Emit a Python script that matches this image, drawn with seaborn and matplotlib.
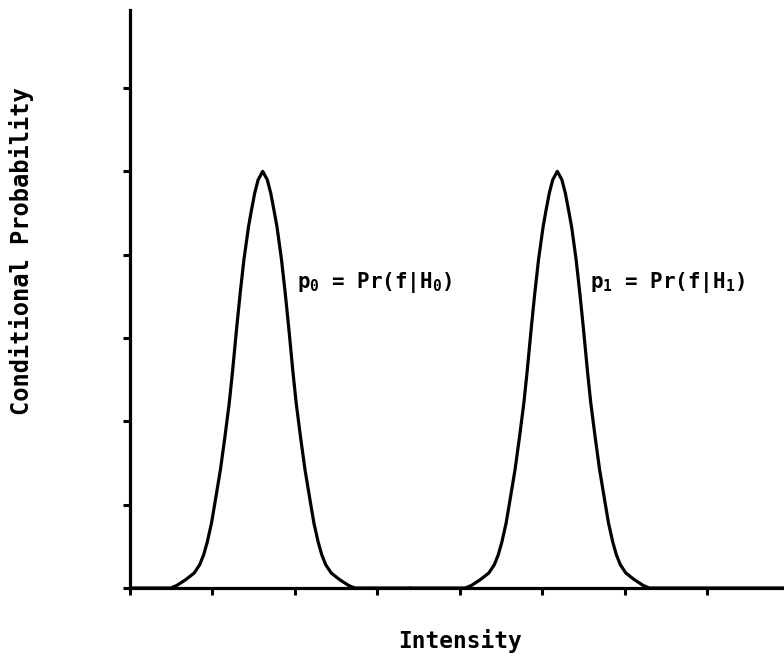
import matplotlib
matplotlib.use("Agg")
import matplotlib.pyplot as plt
import seaborn as sns
import pandas as pd

# Curve points (x in tick units, y in tick units)
p0_x = [0.000, 0.494, 0.567, 0.676, 0.779, 0.846, 0.894, 0.937, 0.989, 1.030,
        1.097, 1.151, 1.204, 1.242, 1.295, 1.337, 1.382, 1.437, 1.467, 1.513,
        1.555, 1.610,
        1.665, 1.707, 1.753, 1.784, 1.838, 1.883, 1.925, 1.978, 2.016, 2.069,
        2.123, 2.190, 2.231, 2.283, 2.326, 2.374, 2.441, 2.544, 2.653, 2.726,
        3.400]
p0_y = [0.00, 0.00, 0.03, 0.10, 0.18, 0.28, 0.40, 0.55, 0.78, 1.02,
        1.42, 1.81, 2.22, 2.58, 3.13, 3.54, 3.94, 4.33, 4.50, 4.74,
        4.90, 5.00,
        4.90, 4.74, 4.50, 4.33, 3.94, 3.54, 3.13, 2.58, 2.22, 1.81,
        1.42, 1.02, 0.78, 0.55, 0.40, 0.28, 0.18, 0.10, 0.03, 0.00,
        0.00]
p1_x = [3.400, 4.068, 4.141, 4.250, 4.353, 4.420, 4.468, 4.511, 4.563, 4.604,
        4.671, 4.725, 4.778, 4.816, 4.869, 4.911, 4.956, 5.011, 5.041, 5.087,
        5.129, 5.184,
        5.239, 5.281, 5.327, 5.358, 5.412, 5.457, 5.499, 5.552, 5.590, 5.643,
        5.697, 5.764, 5.805, 5.857, 5.900, 5.948, 6.015, 6.118, 6.227, 6.300,
        7.934]
p1_y = [0.00, 0.00, 0.03, 0.10, 0.18, 0.28, 0.40, 0.55, 0.78, 1.02,
        1.42, 1.81, 2.22, 2.58, 3.13, 3.54, 3.94, 4.33, 4.50, 4.74,
        4.90, 5.00,
        4.90, 4.74, 4.50, 4.33, 3.94, 3.54, 3.13, 2.58, 2.22, 1.81,
        1.42, 1.02, 0.78, 0.55, 0.40, 0.28, 0.18, 0.10, 0.03, 0.00,
        0.00]

x_ticks = [0, 1, 2, 3, 4, 5, 6, 7]
y_ticks = [0, 1, 2, 3, 4, 5, 6]
x_label = "Intensity"
y_label = "Conditional Probability"
label0 = r"$p_0$ = Pr(f|H$_0$)"
label1 = r"$p_1$ = Pr(f|H$_1$)"

sns.set_style("ticks")
plt.rcParams['font.family'] = ['DejaVu Sans Mono', 'DejaVu Sans']
plt.rcParams['font.weight'] = 'bold'
plt.rcParams['text.color'] = 'black'
plt.rcParams['mathtext.fontset'] = 'custom'
plt.rcParams['mathtext.rm'] = 'DejaVu Sans Mono:bold'
plt.rcParams['mathtext.it'] = 'DejaVu Sans Mono:bold'
plt.rcParams['mathtext.bf'] = 'DejaVu Sans Mono:bold'

W, H = 784, 659
fig = plt.figure(figsize=(W / 100, H / 100), dpi=100)
fig.patch.set_facecolor("white")
ax = fig.add_axes([130 / W, 1 - 588 / H, (784 - 130) / W, (588 - 10) / H])
ax.set_facecolor("white")

df0 = pd.DataFrame({"x": p0_x, "y": p0_y})
df1 = pd.DataFrame({"x": p1_x, "y": p1_y})
sns.lineplot(data=df0, x="x", y="y", ax=ax, color="black", linewidth=2.3,
             sort=False, estimator=None)
sns.lineplot(data=df1, x="x", y="y", ax=ax, color="black", linewidth=2.3,
             sort=False, estimator=None)
for ln in ax.lines:
    ln.set_solid_joinstyle("round")

ax.set_xlim(0, 7.934)
ax.set_ylim(0, 6.936)
ax.set_xticks(x_ticks)
ax.set_yticks(y_ticks)
ax.tick_params(direction="out", length=5, width=2.2, color="black",
               labelbottom=False, labelleft=False)
ax.set_xlabel("")
ax.set_ylabel("")
for s in ["top", "right"]:
    ax.spines[s].set_visible(False)
for s in ["left", "bottom"]:
    ax.spines[s].set_linewidth(2.3)
    ax.spines[s].set_color("black")

ax.text(2.02, 3.66, label0, fontsize=15, ha="left", va="center", color="black")
ax.text(5.58, 3.66, label1, fontsize=15, ha="left", va="center", color="black")

fig.text(460 / W, 1 - 641 / H, x_label, fontsize=16.5, ha="center", va="center",
         fontweight="bold", color="black")
fig.text(22 / W, 1 - 251 / H, y_label, fontsize=17, ha="center", va="center",
         rotation=90, fontweight="bold", color="black")

fig.savefig("out.png", dpi=100, facecolor="white")
